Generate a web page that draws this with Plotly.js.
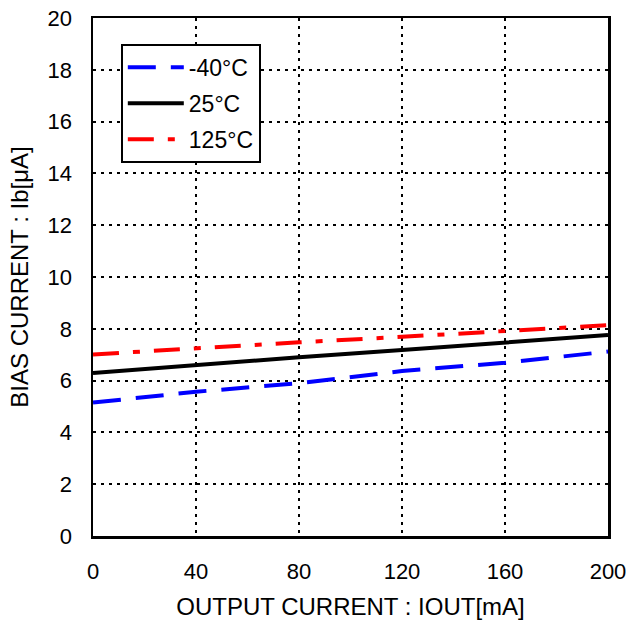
<!DOCTYPE html>
<html><head><meta charset="utf-8">
<script src="https://cdn.plot.ly/plotly-3.0.1.min.js"></script>
<style>html,body{margin:0;padding:0;background:#fff}#chart{width:630px;height:631px}</style>
</head><body><div id="chart"></div>
<script>
const iout = [0, 40, 80, 120, 160, 200];
const ibMinus40 = [5.15, 5.57, 5.90, 6.37, 6.69, 7.12];
const ib25 = [6.29, 6.60, 6.90, 7.18, 7.47, 7.76];
const ib125 = [7.01, 7.25, 7.48, 7.69, 7.93, 8.14];
const names = ["-40°C", "25°C", "125°C"];
const xTicks = [0, 40, 80, 120, 160, 200];
const yTicks = [0, 2, 4, 6, 8, 10, 12, 14, 16, 18, 20];

const traces = [
  {x: iout, y: ibMinus40, name: names[0], legendgroup: "a", mode: "lines", line: {color: "#0000ff", width: 4, dash: "28px,15px"}},
  {x: iout, y: ib25, name: names[1], legendgroup: "b", mode: "lines", line: {color: "#000000", width: 4}},
  {x: iout, y: ib125, name: names[2], legendgroup: "c", mode: "lines", line: {color: "#ff0000", width: 4, dash: "26px,14px,7px,14px"}}
];
const fam = "Liberation Sans, Arial, sans-serif";
const tickFont = {family: fam, size: 22, color: "#000"};
const titleFont = {family: fam, size: 24, color: "#000"};
const axisCommon = {
  showline: true, linecolor: "#000", linewidth: 2.5, mirror: true,
  showgrid: true, gridcolor: "#000", gridwidth: 2, griddash: "3px,5px",
  zeroline: false, ticks: "", tickfont: tickFont
};
const layout = {
  width: 630, height: 631,
  margin: {l: 93, r: 22, t: 18, b: 95},
  paper_bgcolor: "#fff", plot_bgcolor: "#fff",
  font: tickFont,
  showlegend: true,
  legend: {x: 0.054, y: 0.95, xanchor: "left", yanchor: "top", bordercolor: "#000", borderwidth: 2,
    bgcolor: "#fff", font: {family: fam, size: 23, color: "#000"},
    itemwidth: 56, traceorder: "grouped", tracegroupgap: 3,
    entrywidth: 150, entrywidthmode: "pixels"},
  xaxis: Object.assign({}, axisCommon, {range: [0, 200], tickvals: xTicks, ticktext: xTicks.map(String),
    ticklabelstandoff: 14,
    title: {text: "OUTPUT CURRENT : IOUT[mA]", font: titleFont, standoff: 16}}),
  yaxis: Object.assign({}, axisCommon, {range: [0, 20], tickvals: yTicks, ticktext: yTicks.map(String),
    ticklabelstandoff: 14,
    title: {text: "BIAS CURRENT : Ib[μA]", font: titleFont, standoff: 12}})
};
Plotly.newPlot("chart", traces, layout, {displayModeBar: false, staticPlot: true});
</script></body></html>
